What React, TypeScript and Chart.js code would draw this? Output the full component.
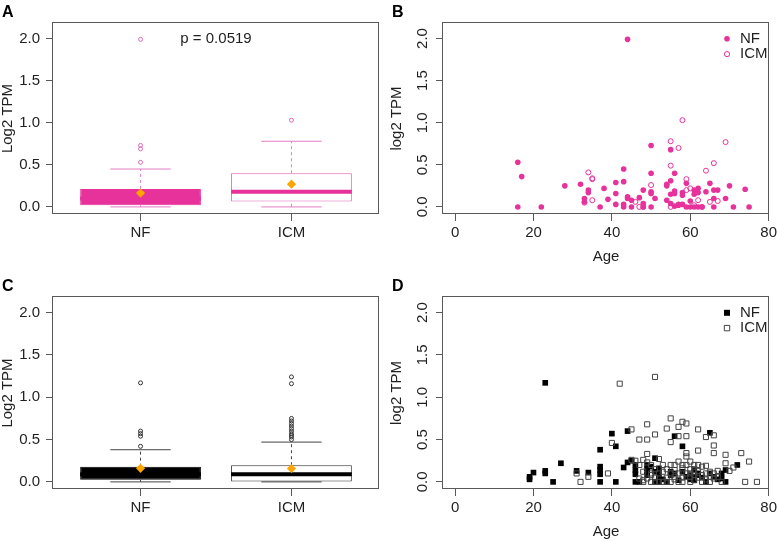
import React, { useEffect, useRef } from 'react';
import { Chart, registerables } from 'chart.js';

Chart.register(...registerables);

const FONT = "'Liberation Sans', Arial, Helvetica, sans-serif";
const TEXT = '#1f1f1f';
const FRAME = '#595959';
const PINK = '#E8329B';
const PINK_SOFT = '#E47CC4';
const ORANGE = '#FFA500';

// Shared axes
const GROUPS = ['NF', 'ICM'];
const TPM_TICKS = [0, 0.5, 1, 1.5, 2];
const AGE_TICKS = [0, 20, 40, 60, 80];
const TPM_RANGE = [-0.084, 2.184];
const AGE_RANGE = [-3.08, 80.08];
const GROUP_RANGE = [0.42, 2.58];
const BOX_HALF = 0.4;
const CAP_HALF = 0.2;

// Panel A: pink gene, expression by group
const A_LOWER = [0, 0];
const A_Q1 = [0.02, 0.063];
const A_MEDIAN = [0.1, 0.18];
const A_Q3 = [0.214, 0.4];
const A_UPPER = [0.45, 0.78];
const A_MEAN = [0.165, 0.27];
const A_OUT_NF = [0.53, 0.69, 0.73, 1.99];
const A_OUT_ICM = [1.03];
const A_PVALUE = 'p = 0.0519';

// Panel B: pink gene against age
const B_NF_AGE = [16, 17, 16, 22, 28, 32, 33, 33, 34, 34, 37, 38, 39, 41, 41, 41, 43, 43, 43, 43, 44, 44, 45, 45, 44, 47, 48, 48, 48, 50, 50, 50, 50, 50, 51, 54, 54, 54, 55, 55, 55, 55, 56, 56, 56, 56, 57, 57, 58, 58, 58, 59, 59, 60, 60, 61, 61, 61, 62, 62, 62, 63, 64, 65, 66, 66, 66, 67, 69, 70, 71, 74, 75];
const B_NF_TPM = [0.53, 0.36, 0, 0, 0.25, 0.27, 0.1, 0.06, 0.2, 0.17, 0, 0.22, 0.09, 0.29, 0.16, 0.03, 0.45, 0.3, 0.03, 0, 0.12, 0.1, 0.08, 0, 1.99, 0.11, 0.2, 0.04, 0, 0.73, 0.4, 0.18, 0.16, 0, 0.1, 0.27, 0.25, 0.08, 0.68, 0.31, 0.15, 0.04, 0.4, 0.19, 0.16, 0.01, 0.02, 0.03, 0.17, 0.14, 0.03, 0.28, 0, 0.07, 0, 0.2, 0.15, 0, 0.22, 0.17, 0, 0, 0.18, 0.28, 0.2, 0.1, 0, 0.2, 0.1, 0.25, 0, 0.21, 0];
const B_ICM_AGE = [33, 34, 35, 35, 35, 46, 47, 48, 50, 55, 55, 55, 57, 58, 59, 59, 60, 61, 62, 63, 64, 65, 66, 67, 69];
const B_ICM_TPM = [0.05, 0.41, 0.34, 0.33, 0.08, 0.06, 0, 0, 0.26, 0.78, 0.49, 0, 0.7, 1.03, 0.33, 0.2, 0.22, 0.02, 0.08, 0, 0.43, 0.06, 0.52, 0.07, 0.77];

// Panel C: black gene, expression by group
const C_LOWER = [0, 0];
const C_Q1 = [0.024, 0];
const C_MEDIAN = [0.09, 0.09];
const C_Q3 = [0.18, 0.197];
const C_UPPER = [0.38, 0.47];
const C_MEAN = [0.16, 0.158];
const C_OUT_NF = [0.42, 0.54, 0.57, 0.6, 1.17];
const C_OUT_ICM = [0.5, 0.53, 0.55, 0.57, 0.6, 0.63, 0.66, 0.69, 0.72, 0.75, 1.16, 1.24];

// Panel D: black gene against age
const D_NF_AGE = [19, 19, 20, 23, 23, 23, 25, 27, 31, 34, 37, 37, 37, 37, 37, 40, 41, 41, 43, 44, 44, 45, 46, 46, 46, 46, 47, 49, 49, 49, 49, 50, 51, 51, 51, 52, 52, 52, 52, 53, 54, 55, 55, 56, 56, 57, 58, 58, 59, 60, 60, 61, 61, 61, 62, 62, 63, 64, 65, 65, 66, 67, 68, 68, 69, 69, 72];
const D_NF_TPM = [0.03, 0.06, 0.11, 1.17, 0.13, 0.1, 0, 0.22, 0.13, 0.11, 0.38, 0.18, 0.14, 0.09, 0, 0.57, 0.42, 0, 0.17, 0.6, 0.23, 0.25, 0.2, 0.14, 0.09, 0, 0, 0.2, 0.16, 0.12, 0.08, 0.18, 0.28, 0.12, 0, 0.16, 0.1, 0.05, 0, 0.03, 0, 0.12, 0.08, 0.54, 0.1, 0.02, 0.42, 0.12, 0.06, 0.08, 0.03, 0.15, 0.06, 0.02, 0.1, 0.08, 0.05, 0, 0.58, 0.1, 0.06, 0.03, 0.04, 0.1, 0.14, 0, 0.2];
const D_ICM_AGE = [31, 32, 34, 39, 40, 42, 45, 45, 46, 47, 47, 47, 48, 48, 48, 48, 49, 49, 49, 49, 49, 50, 50, 50, 50, 51, 51, 51, 51, 51, 52, 52, 52, 53, 53, 53, 54, 54, 54, 54, 55, 55, 55, 55, 55, 56, 56, 56, 56, 57, 57, 57, 57, 57, 58, 58, 58, 58, 58, 59, 59, 59, 59, 59, 59, 60, 60, 60, 60, 60, 61, 61, 61, 61, 62, 62, 62, 62, 62, 63, 63, 63, 64, 64, 64, 64, 65, 65, 65, 66, 66, 66, 66, 66, 67, 67, 68, 69, 69, 70, 71, 73, 74, 75, 77];
const D_ICM_TPM = [0.1, 0, 0.06, 0.1, 0.46, 1.16, 0.62, 0.26, 0.25, 0.5, 0.2, 0.04, 0.26, 0.12, 0, 0.02, 0.68, 0.5, 0.33, 0.23, 0.04, 0.2, 0.1, 0.08, 0, 1.24, 0.56, 0.15, 0.05, 0, 0.27, 0.1, 0, 0.2, 0.12, 0, 0.63, 0.15, 0.05, 0, 0.75, 0.47, 0.2, 0.1, 0, 0.2, 0.14, 0.06, 0.03, 0.65, 0.54, 0.24, 0.1, 0, 0.71, 0.2, 0.16, 0.05, 0, 0.69, 0.54, 0.34, 0.3, 0.2, 0.1, 0.24, 0.15, 0.1, 0.06, 0, 0.2, 0.12, 0.08, 0.02, 0.62, 0.37, 0.2, 0.13, 0.05, 0.18, 0.08, 0, 0.53, 0.19, 0.1, 0.03, 0.12, 0.06, 0, 0.55, 0.43, 0.34, 0.1, 0.04, 0.13, 0.06, 0, 0.32, 0.22, 0.13, 0.17, 0.34, 0, 0.24, 0];

type Pt = { x: number; y: number | null };
type Area = { left: number; right: number; top: number; bottom: number };
type LegendItem = { label: string; shape: 'circle' | 'square'; filled: boolean; color: string };
type BoxStats = { lower: number[]; q1: number[]; median: number[]; q3: number[]; upper: number[]; mean: number[]; outliers: number[][] };
type BoxStyle = { fill: string[]; edge: string[]; whisker: string; median: string; outlier: string };

type PanelSpec = {
  letter: string;
  x: number;
  y: number;
  w: number;
  h: number;
  area: Area;
  letterBaseline: number;
  yTitle: string;
  yTitleX: number;
  xTitle?: string;
  rotatedY: boolean;
  legend?: LegendItem[];
  note?: { text: string; x: number; y: number };
  xRange: number[];
  xTicks: number[];
  xLabel: (v: number) => string;
  datasets: any[];
};

const zip = (xs: number[], ys: number[]): Pt[] => xs.map((x, i) => ({ x, y: ys[i] }));

// Joins separate segments into one series, with null points breaking the line between them
function joinSegments(segments: Pt[][]): Pt[] {
  const out: Pt[] = [];
  segments.forEach((seg, i) => {
    if (i > 0) out.push({ x: seg[0].x, y: null });
    out.push(...seg);
  });
  return out;
}

function boxplotDatasets(s: BoxStats, st: BoxStyle) {
  const centers = GROUPS.map((_, i) => i + 1);
  const whiskers = joinSegments(
    centers.flatMap((c, i) => [
      [{ x: c, y: s.q3[i] }, { x: c, y: s.upper[i] }],
      [{ x: c, y: s.lower[i] }, { x: c, y: s.q1[i] }],
    ])
  );
  const caps = joinSegments(
    centers.flatMap((c, i) => [
      [{ x: c - CAP_HALF, y: s.upper[i] }, { x: c + CAP_HALF, y: s.upper[i] }],
      [{ x: c - CAP_HALF, y: s.lower[i] }, { x: c + CAP_HALF, y: s.lower[i] }],
    ])
  );
  const medians = joinSegments(
    centers.map((c, i) => [{ x: c - BOX_HALF, y: s.median[i] }, { x: c + BOX_HALF, y: s.median[i] }])
  );
  const outliers = centers.flatMap((c, i) => s.outliers[i].map((y) => ({ x: c, y })));
  const line = { type: 'line', pointRadius: 0, fill: false, tension: 0, spanGaps: false };
  return [
    {
      type: 'scatter',
      label: 'mean',
      data: centers.map((c, i) => ({ x: c, y: s.mean[i] })),
      pointStyle: 'rectRot',
      pointRadius: 4.6,
      pointBorderWidth: 0,
      pointBackgroundColor: ORANGE,
      backgroundColor: ORANGE,
      borderColor: ORANGE,
    },
    {
      type: 'scatter',
      label: 'outliers',
      data: outliers,
      pointStyle: 'circle',
      pointRadius: 2,
      pointBorderWidth: 1,
      pointBorderColor: st.outlier,
      pointBackgroundColor: 'rgba(0,0,0,0)',
      borderColor: st.outlier,
      backgroundColor: 'rgba(0,0,0,0)',
    },
    { ...line, label: 'median', data: medians, borderColor: st.median, borderWidth: 4 },
    { ...line, label: 'caps', data: caps, borderColor: st.whisker, borderWidth: 1 },
    { ...line, label: 'whiskers', data: whiskers, borderColor: st.whisker, borderWidth: 1, borderDash: [3, 3] },
    {
      type: 'bar',
      label: 'box',
      data: centers.map((c, i) => ({ x: c, y: [s.q1[i], s.q3[i]] })),
      backgroundColor: st.fill,
      borderColor: st.edge,
      borderWidth: 1,
      borderSkipped: false,
      barPercentage: BOX_HALF * 2,
      categoryPercentage: 1,
    },
  ];
}

function pointSeries(label: string, pts: Pt[], shape: 'circle' | 'rect', filled: boolean, color: string, radius: number) {
  return {
    type: 'scatter',
    label,
    data: pts,
    pointStyle: shape,
    pointRadius: radius,
    pointBorderWidth: filled ? 0 : 1,
    pointBorderColor: color,
    pointBackgroundColor: filled ? color : 'rgba(0,0,0,0)',
    borderColor: color,
    backgroundColor: filled ? color : 'rgba(0,0,0,0)',
  };
}

function drawMarker(ctx: CanvasRenderingContext2D, item: LegendItem, x: number, y: number) {
  ctx.beginPath();
  if (item.shape === 'circle') {
    ctx.arc(x, y, item.filled ? 2.8 : 2.6, 0, Math.PI * 2);
  } else {
    const s = item.filled ? 3 : 2.7;
    ctx.rect(x - s, y - s, s * 2, s * 2);
  }
  if (item.filled) {
    ctx.fillStyle = item.color;
    ctx.fill();
  } else {
    ctx.lineWidth = 1;
    ctx.strokeStyle = item.color;
    ctx.stroke();
  }
}

function decorPlugin(p: PanelSpec) {
  return {
    id: 'decor',
    afterDraw(chart: any) {
      const ctx: CanvasRenderingContext2D = chart.ctx;
      const a = chart.chartArea;
      ctx.save();
      // plot frame
      ctx.strokeStyle = FRAME;
      ctx.lineWidth = 1;
      ctx.strokeRect(a.left - 0.5, a.top - 0.5, a.right - a.left, a.bottom - a.top);

      ctx.fillStyle = '#000';
      ctx.font = `bold 16px ${FONT}`;
      ctx.textAlign = 'left';
      ctx.textBaseline = 'alphabetic';
      ctx.fillText(p.letter, 2, p.letterBaseline);

      ctx.fillStyle = TEXT;
      ctx.font = `15px ${FONT}`;
      ctx.textAlign = 'center';
      ctx.textBaseline = 'middle';

      // y axis title
      ctx.save();
      ctx.translate(p.yTitleX, (a.top + a.bottom) / 2);
      ctx.rotate(-Math.PI / 2);
      ctx.fillText(p.yTitle, 0, 0);
      ctx.restore();

      if (p.xTitle) ctx.fillText(p.xTitle, (a.left + a.right) / 2, a.bottom + 43);

      if (p.rotatedY) {
        const ys = chart.scales.y;
        TPM_TICKS.forEach((v) => {
          ctx.save();
          ctx.translate(a.left - 20, ys.getPixelForValue(v));
          ctx.rotate(-Math.PI / 2);
          ctx.fillText(v.toFixed(1), 0, 0);
          ctx.restore();
        });
      }

      if (p.note) {
        ctx.fillText(p.note.text, chart.scales.x.getPixelForValue(p.note.x), chart.scales.y.getPixelForValue(p.note.y));
      }

      if (p.legend) {
        p.legend.forEach((item, i) => {
          const y = a.top + 15.8 + i * 15.3;
          drawMarker(ctx, item, a.right - 42, y);
          ctx.fillStyle = TEXT;
          ctx.textAlign = 'left';
          ctx.fillText(item.label, a.right - 29, y);
        });
      }
      ctx.restore();
    },
  };
}

function makeConfig(p: PanelSpec): any {
  const tickFont = { family: FONT, size: 15 };
  const grid = {
    display: true,
    offset: false,
    drawOnChartArea: false,
    drawTicks: true,
    tickLength: 7,
    color: FRAME,
    lineWidth: 1,
  };
  return {
    type: 'scatter',
    data: { datasets: p.datasets },
    options: {
      responsive: false,
      animation: false,
      devicePixelRatio: 1,
      events: [],
      layout: { padding: { left: 0, top: p.area.top, right: p.w - p.area.right, bottom: 0 } },
      plugins: { legend: { display: false }, tooltip: { enabled: false } },
      scales: {
        x: {
          type: 'linear',
          min: p.xRange[0],
          max: p.xRange[1],
          offset: false,
          afterBuildTicks: (s: any) => {
            s.ticks = p.xTicks.map((value) => ({ value }));
          },
          afterFit: (s: any) => {
            s.height = p.h - p.area.bottom;
            s.paddingLeft = 0;
            s.paddingRight = 0;
          },
          grid,
          border: { display: false },
          ticks: {
            font: tickFont,
            color: TEXT,
            padding: 3,
            maxRotation: 0,
            minRotation: 0,
            autoSkip: false,
            callback: (v: any) => p.xLabel(Number(v)),
          },
        },
        y: {
          type: 'linear',
          min: TPM_RANGE[0],
          max: TPM_RANGE[1],
          offset: false,
          afterBuildTicks: (s: any) => {
            s.ticks = TPM_TICKS.map((value) => ({ value }));
          },
          afterFit: (s: any) => {
            s.width = p.area.left;
            s.paddingTop = 0;
            s.paddingBottom = 0;
          },
          grid,
          border: { display: false },
          ticks: {
            display: !p.rotatedY,
            font: tickFont,
            color: TEXT,
            padding: 6,
            callback: (v: any) => Number(v).toFixed(1),
          },
        },
      },
    },
    plugins: [decorPlugin(p)],
  };
}

const groupLabel = (v: number) => GROUPS[Math.round(v) - 1] ?? '';
const ageLabel = (v: number) => String(v);

const TOP_AREA: Area = { left: 53, right: 379, top: 23, bottom: 214 };
const BOTTOM_AREA: Area = { left: 53, right: 379, top: 27, bottom: 219 };

const PANELS: PanelSpec[] = [
  {
    letter: 'A', x: 0, y: 0, w: 390, h: 270, area: TOP_AREA, letterBaseline: 16.5,
    yTitle: 'Log2 TPM', yTitleX: 8, rotatedY: false,
    note: { text: A_PVALUE, x: 1.5, y: 2 },
    xRange: GROUP_RANGE, xTicks: [1, 2], xLabel: groupLabel,
    datasets: boxplotDatasets(
      { lower: A_LOWER, q1: A_Q1, median: A_MEDIAN, q3: A_Q3, upper: A_UPPER, mean: A_MEAN, outliers: [A_OUT_NF, A_OUT_ICM] },
      { fill: [PINK, '#FFFFFF'], edge: [PINK, '#E063B6'], whisker: PINK_SOFT, median: PINK, outlier: '#DF68B8' }
    ),
  },
  {
    letter: 'B', x: 390, y: 0, w: 387, h: 270, area: TOP_AREA, letterBaseline: 16.5,
    yTitle: 'log2 TPM', yTitleX: 7, xTitle: 'Age', rotatedY: true,
    legend: [
      { label: 'NF', shape: 'circle', filled: true, color: PINK },
      { label: 'ICM', shape: 'circle', filled: false, color: PINK },
    ],
    xRange: AGE_RANGE, xTicks: AGE_TICKS, xLabel: ageLabel,
    datasets: [
      pointSeries('ICM', zip(B_ICM_AGE, B_ICM_TPM), 'circle', false, PINK, 2.5),
      pointSeries('NF', zip(B_NF_AGE, B_NF_TPM), 'circle', true, PINK, 2.8),
    ],
  },
  {
    letter: 'C', x: 0, y: 270, w: 390, h: 271, area: BOTTOM_AREA, letterBaseline: 20.5,
    yTitle: 'Log2 TPM', yTitleX: 8, rotatedY: false,
    xRange: GROUP_RANGE, xTicks: [1, 2], xLabel: groupLabel,
    datasets: boxplotDatasets(
      { lower: C_LOWER, q1: C_Q1, median: C_MEDIAN, q3: C_Q3, upper: C_UPPER, mean: C_MEAN, outliers: [C_OUT_NF, C_OUT_ICM] },
      { fill: ['#000000', '#FFFFFF'], edge: ['#000000', '#333333'], whisker: '#444444', median: '#000000', outlier: '#333333' }
    ),
  },
  {
    letter: 'D', x: 390, y: 270, w: 387, h: 271, area: BOTTOM_AREA, letterBaseline: 20.5,
    yTitle: 'log2 TPM', yTitleX: 7, xTitle: 'Age', rotatedY: true,
    legend: [
      { label: 'NF', shape: 'square', filled: true, color: '#000000' },
      { label: 'ICM', shape: 'square', filled: false, color: '#444444' },
    ],
    xRange: AGE_RANGE, xTicks: AGE_TICKS, xLabel: ageLabel,
    datasets: [
      pointSeries('ICM', zip(D_ICM_AGE, D_ICM_TPM), 'rect', false, '#444444', 3.6),
      pointSeries('NF', zip(D_NF_AGE, D_NF_TPM), 'rect', true, '#000000', 4),
    ],
  },
];

function Panel({ spec }: { spec: PanelSpec }) {
  const ref = useRef<HTMLCanvasElement>(null);
  useEffect(() => {
    if (!ref.current) return;
    const chart = new Chart(ref.current, makeConfig(spec));
    return () => chart.destroy();
  }, [spec]);
  return (
    <canvas
      ref={ref}
      width={spec.w}
      height={spec.h}
      style={{ position: 'absolute', left: spec.x, top: spec.y, width: spec.w, height: spec.h }}
    />
  );
}

export default function App() {
  return (
    <div style={{ position: 'fixed', left: 0, top: 0, width: 777, height: 541, background: '#fff', overflow: 'hidden' }}>
      {PANELS.map((p) => (
        <Panel key={p.letter} spec={p} />
      ))}
    </div>
  );
}
